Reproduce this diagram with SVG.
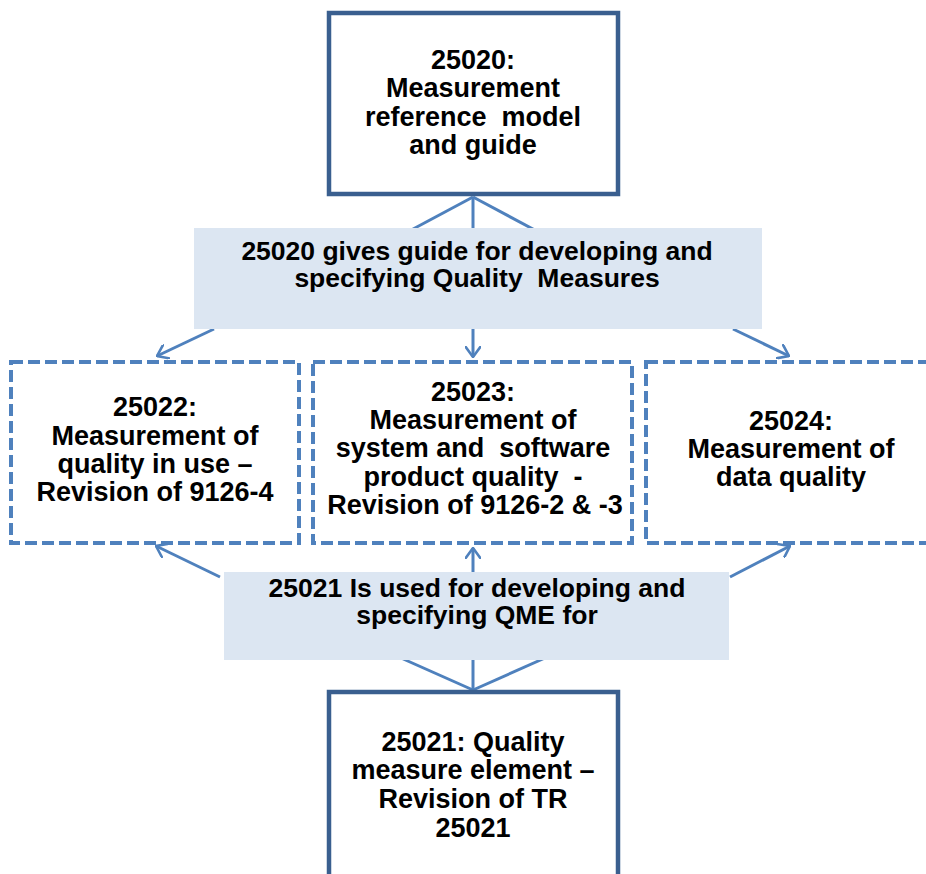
<svg xmlns="http://www.w3.org/2000/svg" width="926" height="874" viewBox="0 0 926 874">
<style>
  .t { font-family: "Liberation Sans", Arial, sans-serif; font-weight: bold; font-size: 27px; fill: #000; text-anchor: middle; }
  .b { font-size: 26.5px; }
  .solid { fill: #fff; stroke: #3a5f8f; stroke-width: 4.5; }
  .dash { fill: #fff; stroke: #4f81bd; stroke-width: 4; stroke-dasharray: 12 5; }
  .band { fill: #dce6f2; stroke: none; }
  .c { stroke: #4f81bd; stroke-width: 3; fill: none; }
  .a { stroke: #4f81bd; stroke-width: 3; fill: none; marker-end: url(#chev); }
</style>
<defs>
  <marker id="chev" viewBox="0 0 12 16" refX="11" refY="8" markerWidth="12" markerHeight="16" markerUnits="userSpaceOnUse" orient="auto">
    <path d="M0,0 L11,8 L0,16" fill="none" stroke="#4f81bd" stroke-width="2.6"/>
  </marker>
</defs>
<rect width="926" height="874" fill="#fff"/>
<g id="connectors">
  <line class="c" x1="473" y1="197" x2="400" y2="236"/>
  <line class="c" x1="473" y1="197" x2="473" y2="232"/>
  <line class="c" x1="473" y1="197" x2="546" y2="236"/>
  <line class="a" x1="214" y1="329" x2="157" y2="356"/>
  <line class="a" x1="473" y1="329" x2="473" y2="357"/>
  <line class="a" x1="733" y1="329" x2="789" y2="356"/>
  <line class="a" x1="220" y1="577" x2="156" y2="546"/>
  <line class="a" x1="473" y1="575" x2="473" y2="548"/>
  <line class="a" x1="730" y1="577" x2="790" y2="546"/>
  <line class="c" x1="473" y1="690" x2="392" y2="654"/>
  <line class="c" x1="473" y1="690" x2="473" y2="655"/>
  <line class="c" x1="473" y1="690" x2="554" y2="654"/>
</g>
<g id="n25020">
  <rect class="solid" x="329" y="13" width="289" height="181"/>
  <text class="t" x="473" y="69">25020:</text>
  <text class="t" x="473" y="97">Measurement</text>
  <text class="t" x="473" y="126" xml:space="preserve">reference  model</text>
  <text class="t" x="473" y="154">and guide</text>
</g>
<g id="band1">
  <rect class="band" x="194" y="228" width="568" height="101"/>
  <text class="t b" x="477" y="260">25020 gives guide for developing and</text>
  <text class="t b" x="477" y="287" xml:space="preserve">specifying Quality  Measures</text>
</g>
<g id="n25022">
  <rect class="dash" x="11" y="362" width="288" height="181"/>
  <text class="t" x="155" y="416">25022:</text>
  <text class="t" x="155" y="445">Measurement of</text>
  <text class="t" x="155" y="473">quality in use –</text>
  <text class="t" x="155" y="501">Revision of 9126-4</text>
</g>
<g id="n25023">
  <rect class="dash" x="313" y="362" width="319" height="181"/>
  <text class="t" x="473" y="401">25023:</text>
  <text class="t" x="473" y="429">Measurement of</text>
  <text class="t" x="473" y="457" xml:space="preserve">system and  software</text>
  <text class="t" x="473" y="486" xml:space="preserve">product quality  -</text>
  <text class="t" x="475" y="514">Revision of 9126-2 &amp; -3</text>
</g>
<g id="n25024">
  <rect class="dash" x="646" y="362" width="290" height="181"/>
  <text class="t" x="791" y="430">25024:</text>
  <text class="t" x="791" y="458">Measurement of</text>
  <text class="t" x="791" y="486">data quality</text>
</g>
<g id="band2">
  <rect class="band" x="224" y="572" width="505" height="88"/>
  <text class="t b" x="477" y="597">25021 Is used for developing and</text>
  <text class="t b" x="477" y="624">specifying QME for</text>
</g>
<g id="n25021">
  <rect class="solid" x="329" y="692" width="289" height="200"/>
  <text class="t" x="473" y="751">25021: Quality</text>
  <text class="t" x="473" y="779">measure element –</text>
  <text class="t" x="473" y="808">Revision of TR</text>
  <text class="t" x="473" y="837">25021</text>
</g>
</svg>
